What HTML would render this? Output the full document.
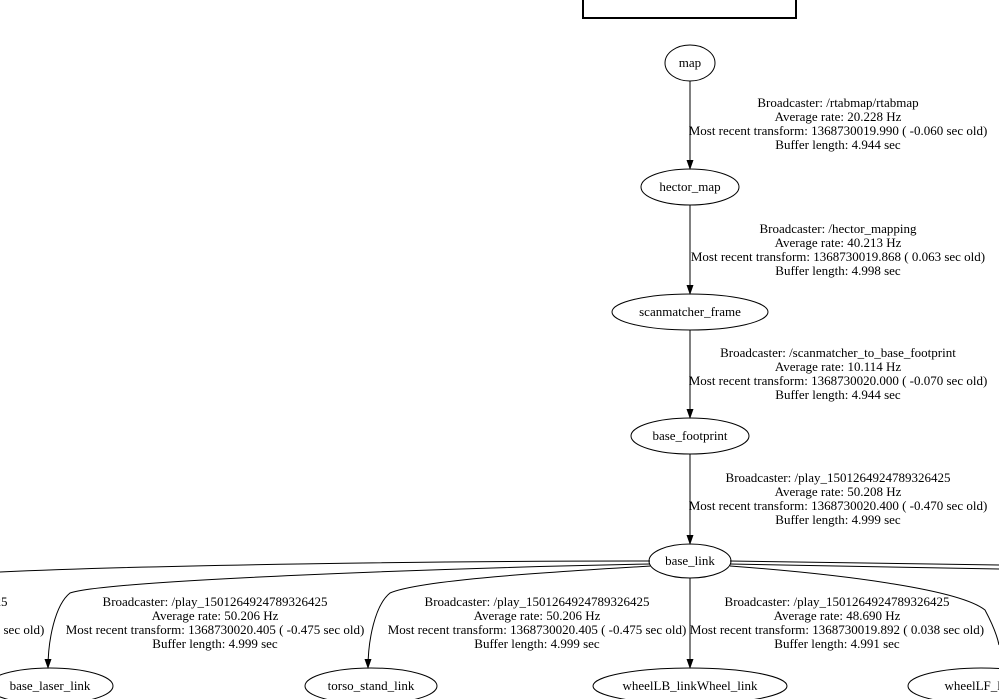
<!DOCTYPE html>
<html><head><meta charset="utf-8"><style>
html,body{margin:0;padding:0;background:#fff;width:999px;height:699px;overflow:hidden}
svg{display:block}
text{font-family:"Liberation Serif",serif;font-size:13px;fill:#000}
</style></head><body>
<svg width="999" height="699" viewBox="0 0 999 699" xmlns="http://www.w3.org/2000/svg">
<defs>
<marker id="a" markerWidth="10" markerHeight="10" refX="9" refY="3.5" orient="auto" markerUnits="userSpaceOnUse">
<path d="M0,0 L10,3.5 L0,7 z" fill="#000"/>
</marker>
</defs>
<g fill="none" stroke="#000" stroke-width="1">
<rect x="583" y="-5" width="213" height="23" stroke-width="2"/>
<ellipse cx="690" cy="63" rx="25" ry="18"/>
<ellipse cx="690" cy="187" rx="49" ry="18"/>
<ellipse cx="690" cy="312" rx="78" ry="18"/>
<ellipse cx="690" cy="436" rx="59" ry="18"/>
<ellipse cx="690" cy="561" rx="41" ry="17"/>
<ellipse cx="50" cy="686" rx="63" ry="18"/>
<ellipse cx="371" cy="686" rx="66" ry="18"/>
<ellipse cx="690" cy="686" rx="97" ry="18"/>
<ellipse cx="981" cy="686" rx="73" ry="18"/>
<path d="M690,81 V169" marker-end="url(#a)"/>
<path d="M690,205 V294" marker-end="url(#a)"/>
<path d="M690,330 V418" marker-end="url(#a)"/>
<path d="M690,454 V544" marker-end="url(#a)"/>
<path d="M690,578 V668" marker-end="url(#a)"/>
<path d="M650,561 C450,561 150,565 0,572"/>
<path d="M650,564 C450,568 110,580 70,593 C55,605 48,640 48,668" marker-end="url(#a)"/>
<path d="M651,566 C550,572 420,580 390,593 C375,605 368,640 368,668" marker-end="url(#a)"/>
<path d="M730,561 C850,562 950,564 999,565"/>
<path d="M730,564 C850,566 950,568 999,569"/>
<path d="M730,566 C850,575 960,590 985,610 C993,625 997,635 999,645"/>
</g>
<g text-anchor="middle">
<text x="690" y="67">map</text>
<text x="690" y="191">hector_map</text>
<text x="690" y="316">scanmatcher_frame</text>
<text x="690" y="440">base_footprint</text>
<text x="690" y="565">base_link</text>
<text x="50" y="690">base_laser_link</text>
<text x="371" y="690">torso_stand_link</text>
<text x="690" y="690">wheelLB_linkWheel_link</text>
<text x="981" y="690">wheelLF_link</text>

<text x="838" y="107">Broadcaster: /rtabmap/rtabmap</text>
<text x="838" y="121">Average rate: 20.228 Hz</text>
<text x="838" y="135">Most recent transform: 1368730019.990 ( -0.060 sec old)</text>
<text x="838" y="149">Buffer length: 4.944 sec</text>

<text x="838" y="233">Broadcaster: /hector_mapping</text>
<text x="838" y="247">Average rate: 40.213 Hz</text>
<text x="838" y="261">Most recent transform: 1368730019.868 ( 0.063 sec old)</text>
<text x="838" y="275">Buffer length: 4.998 sec</text>

<text x="838" y="357">Broadcaster: /scanmatcher_to_base_footprint</text>
<text x="838" y="371">Average rate: 10.114 Hz</text>
<text x="838" y="385">Most recent transform: 1368730020.000 ( -0.070 sec old)</text>
<text x="838" y="399">Buffer length: 4.944 sec</text>

<text x="838" y="482">Broadcaster: /play_1501264924789326425</text>
<text x="838" y="496">Average rate: 50.208 Hz</text>
<text x="838" y="510">Most recent transform: 1368730020.400 ( -0.470 sec old)</text>
<text x="838" y="524">Buffer length: 4.999 sec</text>

<text x="-105" y="606">Broadcaster: /play_1501264924789326425</text>
<text x="-105" y="620">Average rate: 50.206 Hz</text>
<text x="-105" y="634">Most recent transform: 1368730020.405 ( -0.475 sec old)</text>
<text x="-105" y="648">Buffer length: 4.999 sec</text>

<text x="215" y="606">Broadcaster: /play_1501264924789326425</text>
<text x="215" y="620">Average rate: 50.206 Hz</text>
<text x="215" y="634">Most recent transform: 1368730020.405 ( -0.475 sec old)</text>
<text x="215" y="648">Buffer length: 4.999 sec</text>

<text x="537" y="606">Broadcaster: /play_1501264924789326425</text>
<text x="537" y="620">Average rate: 50.206 Hz</text>
<text x="537" y="634">Most recent transform: 1368730020.405 ( -0.475 sec old)</text>
<text x="537" y="648">Buffer length: 4.999 sec</text>

<text x="837" y="606">Broadcaster: /play_1501264924789326425</text>
<text x="837" y="620">Average rate: 48.690 Hz</text>
<text x="837" y="634">Most recent transform: 1368730019.892 ( 0.038 sec old)</text>
<text x="837" y="648">Buffer length: 4.991 sec</text>
</g>
</svg>
</body></html>
